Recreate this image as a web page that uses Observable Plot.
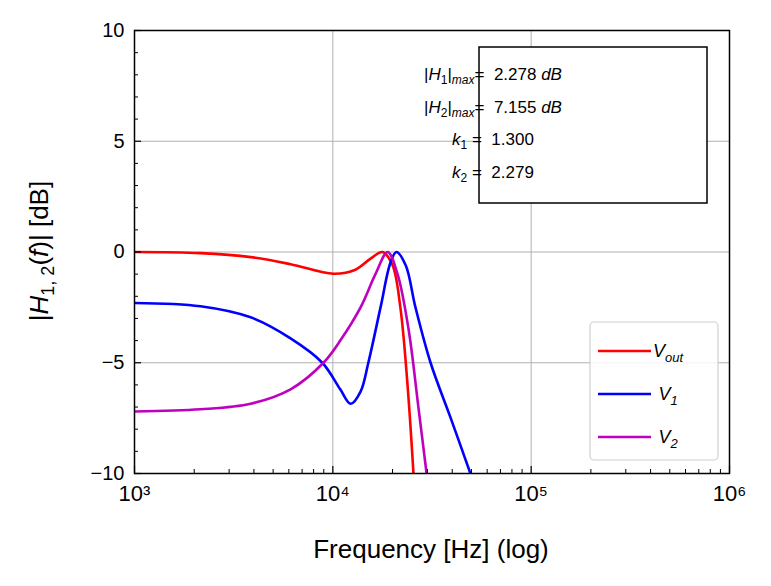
<!DOCTYPE html>
<html><head><meta charset="utf-8">
<script src="https://cdn.jsdelivr.net/npm/d3@7"></script>
<script src="https://cdn.jsdelivr.net/npm/@observablehq/plot@0.6"></script>
<style>body{margin:0;background:#fff}svg{font-family:"Liberation Sans",Arial,sans-serif}</style>
</head><body><div id="c"></div>
<script>
const voutF = [1000,2150,3850,6120,10070,13000,15500,17800,20000,21900,23800,25500];
const voutDB = [0,-0.05,-0.23,-0.55,-0.98,-0.8,-0.3,0,-0.6,-2.5,-6,-10];
const v1F = [1000,2150,3850,6120,8850,10900,12300,13800,15100,17400,19500,20900,23300,26100,31100,39300,49400];
const v1DB = [-2.3,-2.45,-2.95,-3.9,-5,-6.2,-6.85,-6.3,-5,-2.5,-0.5,0,-0.6,-2.5,-5,-7.5,-10];
const v2F = [1000,2150,3850,6120,8970,10900,13800,16400,18900,21200,24100,27000,29700];
const v2DB = [-7.2,-7.1,-6.85,-6.2,-5,-4,-2.5,-1,0,-1,-3.5,-7,-10];
const xMajor = [1e3,1e4,1e5,1e6];
const xLabels = ["10³","10⁴","10⁵","10⁶"];
const yMajor = [-10,-5,0,5,10];
const annot = [["H","1","2.278 dB"],["H","2","7.155 dB"],["k","1","1.300"],["k","2","2.279"]];
const seriesNames = [["V","out","red"],["V","1","blue"],["V","2","#bf00bf"]];

const rows = (F,D,s)=>F.map((f,i)=>({f,db:D[i],s}));
const all = [...rows(voutF,voutDB,"Vout"),...rows(v1F,v1DB,"V1"),...rows(v2F,v2DB,"V2")];
const xMinor = []; for (let d=1e3; d<1e6; d*=10) for (let m=2;m<10;m++) xMinor.push(d*m);
const yMinor = d3.range(-10,11).filter(v=>v%5!==0);
const kx = L=>Math.pow(10, L/198.3), ky = L=>L/22.15;

const chart = Plot.plot({
  width:771, height:586, marginLeft:134, marginRight:42, marginTop:30, marginBottom:113,
  x:{type:"log", domain:[1e3,1e6]}, y:{domain:[-10,10]},
  style:{fontFamily:"Liberation Sans, Arial, sans-serif", color:"black"},
  marks:[
    Plot.gridX(xMajor,{stroke:"#b0b0b0", strokeOpacity:1, strokeWidth:1}),
    Plot.gridY(yMajor,{stroke:"#b0b0b0", strokeOpacity:1, strokeWidth:1}),
    Plot.line(all,{x:"f",y:"db",z:"s",stroke:d=>d.s==="Vout"?"red":d.s==="V1"?"blue":"#bf00bf",strokeWidth:2.6,curve:"catmull-rom",clip:true}),
    Plot.ruleX(xMajor,{x:d=>d,y1:-10,y2:-10+ky(7),stroke:"black",strokeWidth:1.2}),
    Plot.ruleX(xMinor,{x:d=>d,y1:-10,y2:-10+ky(4),stroke:"black",strokeWidth:1}),
    Plot.ruleY(yMajor,{y:d=>d,x1:1e3,x2:1e3*kx(7),stroke:"black",strokeWidth:1.2}),
    Plot.ruleY(yMinor,{y:d=>d,x1:1e3,x2:1e3*kx(4),stroke:"black",strokeWidth:1}),
    Plot.axisX(xMajor,{tickSize:0,tickPadding:12,fontSize:22,tickFormat:d=>xLabels[xMajor.indexOf(d)],label:null}),
    Plot.axisY(yMajor,{tickSize:0,tickPadding:10,fontSize:20,tickFormat:d=>String(d).replace("-","−"),label:null}),
    Plot.frame({stroke:"black",strokeWidth:1.5})
  ]
});
document.getElementById("c").appendChild(chart);
const svg = d3.select(chart);
svg.append("text").attr("x",431).attr("y",558).attr("text-anchor","middle").attr("font-size",26).text("Frequency [Hz] (log)");
const yl = svg.append("text").attr("transform","translate(48,251) rotate(-90)").attr("text-anchor","middle").attr("font-size",26);
yl.append("tspan").text("|");
yl.append("tspan").attr("font-style","italic").text("H");
yl.append("tspan").attr("font-size",18).attr("dy",6).text("1, 2");
yl.append("tspan").attr("dy",-6).text("(");
yl.append("tspan").attr("font-style","italic").text("f");
yl.append("tspan").text(")| [dB]");
svg.append("rect").attr("x",479).attr("y",47).attr("width",228).attr("height",156).attr("fill","white").attr("stroke","black").attr("stroke-width",1.5);
annot.forEach((a,i)=>{
  const t = svg.append("text").attr("x",493).attr("y",80+i*32.5).attr("font-size",17);
  if (a[0]==="H") {
    t.append("tspan").text("|"); t.append("tspan").attr("font-style","italic").text("H");
    t.append("tspan").attr("font-size",12).attr("dy",4).text(a[1]);
    t.append("tspan").attr("dy",-4).text("|");
    t.append("tspan").attr("font-style","italic").attr("font-size",12).attr("dy",4).text("max");
    t.append("tspan").attr("dy",-4).text("=  ");
    const [n,u] = a[2].split(" ");
    t.append("tspan").text(n+" "); t.append("tspan").attr("font-style","italic").text(u);
  } else {
    t.append("tspan").attr("font-style","italic").text("k");
    t.append("tspan").attr("font-size",12).attr("dy",4).text(a[1]);
    t.append("tspan").attr("dy",-4).text(" =  "+a[2]);
  }
});
svg.append("rect").attr("x",590).attr("y",322).attr("width",128).attr("height",138).attr("rx",4).attr("fill","white").attr("fill-opacity",0.85).attr("stroke","#d0d0d0").attr("stroke-width",1.2);
seriesNames.forEach((s,i)=>{
  const y = 351+i*43;
  svg.append("line").attr("x1",598).attr("x2",651).attr("y1",y).attr("y2",y).attr("stroke",s[2]).attr("stroke-width",2.6);
  const t = svg.append("text").attr("x",668).attr("y",y+6).attr("font-size",18);
  t.append("tspan").attr("font-style","italic").text(s[0]);
  t.append("tspan").attr("font-style","italic").attr("font-size",13).attr("dy",5).text(s[1]);
});
</script></body></html>
